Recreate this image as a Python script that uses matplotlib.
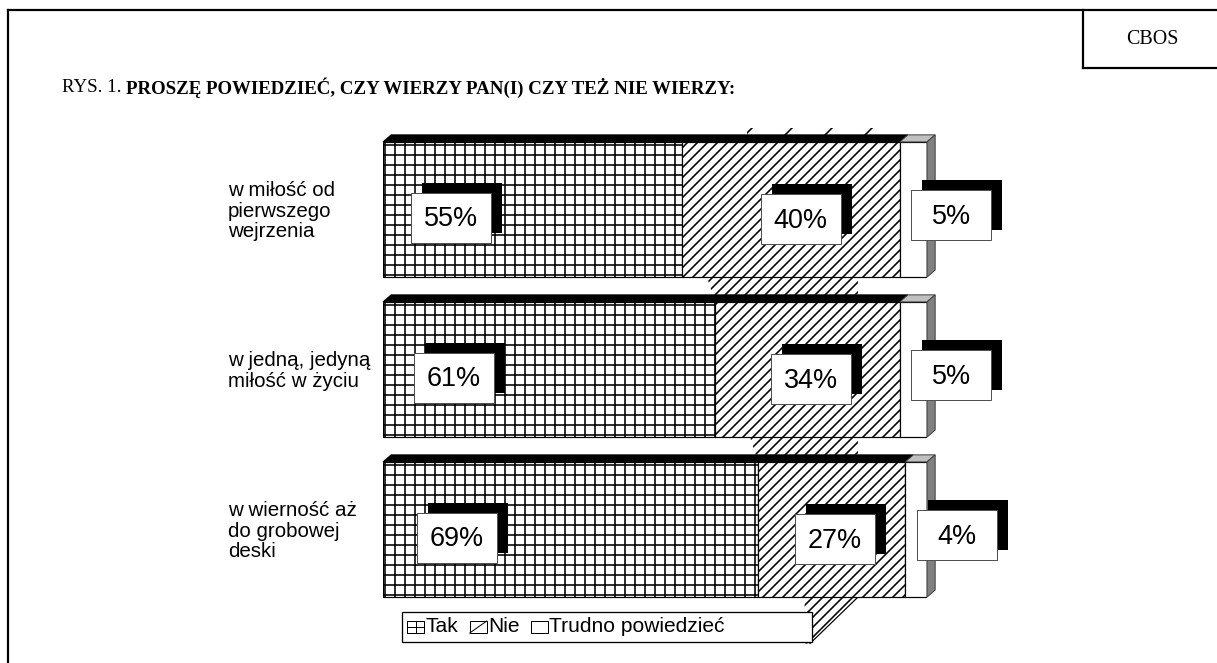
import matplotlib
matplotlib.use("Agg")
import matplotlib.pyplot as plt
from matplotlib.patches import Polygon, Rectangle
from matplotlib.lines import Line2D
from matplotlib import transforms

# dane
categories = ["w miłość od\npierwszego\nwejrzenia",
              "w jedną, jedyną\nmiłość w życiu",
              "w wierność aż\ndo grobowej\ndeski"]
tak = [55, 61, 69]
nie = [40, 34, 27]
trudno = [5, 5, 4]
series_names = ["Tak", "Nie", "Trudno powiedzieć"]

W, H = 1217, 663
DPI = 120


def pt(px):
    # rozmiar w pikselach -> punkty
    return px * 72 / DPI


plt.rcParams["hatch.linewidth"] = pt(1.6)

fig = plt.figure(figsize=(W / DPI, H / DPI), dpi=DPI)


def fx(px):
    return px / W


def fy(py):
    return 1 - py / H


# obszar wykresu (piksele: x 383-927, y 113-625)
ax = fig.add_axes([fx(383), fy(625.5), 544 / W, 512 / H])
ax.set_xlim(0, 100)
ax.set_ylim(2.6, -0.6)
ax.axis("off")

ypos = list(range(len(categories)))
bh = 0.845
dx, dy = 1.5, 0.044
NIE_HATCH = "////"
left3 = [a + b for a, b in zip(tak, nie)]


def hpoly(pts, hatch, z=1):
    ax.add_patch(Polygon(pts, closed=True, facecolor="white", edgecolor="black", hatch=hatch,
                         linewidth=0, zorder=z, clip_on=False))


# przeciekajace kreskowanie (efekt 3D)
for i in range(len(categories)):
    top = ypos[i] - bh / 2
    bot = ypos[i] + bh / 2
    if i + 1 < len(categories):
        x0 = tak[i + 1] - 1.5
        hpoly([(x0, bot), (87.3, bot), (87.3, bot + 1 - bh), (x0 + 1.5, bot + 1 - bh)], NIE_HATCH)
    else:
        hpoly([(77.5, bot), (87.3, bot), (78.5, bot + 0.29), (77.5, bot + 0.29)], NIE_HATCH)
        ax.plot([87.3, 78.5], [bot, bot + 0.29], color="black", lw=pt(1.2), zorder=1, clip_on=False)
    if i == 0:
        hpoly([(67, top - 0.03), (90, top - 0.03), (90, top - 0.09), (67, top - 0.09)], "/")

# slupki
ax.barh(ypos, tak, height=bh, color="white", edgecolor="black", hatch="++", linewidth=pt(1.2), zorder=3)
ax.barh(ypos, nie, left=tak, height=bh, color="white", edgecolor="black", hatch=NIE_HATCH,
        linewidth=pt(1.2), zorder=3)
ax.barh(ypos, trudno, left=left3, height=bh, color="white", edgecolor="black", linewidth=pt(1.2), zorder=3)

# scianki 3D
for i in range(len(categories)):
    top = ypos[i] - bh / 2
    bot = ypos[i] + bh / 2
    split = left3[i]
    end = split + trudno[i]
    ax.add_patch(Polygon([(0, top), (dx, top - dy), (split + dx, top - dy), (split, top)],
                         closed=True, facecolor="black", edgecolor="black", lw=pt(1), zorder=4, clip_on=False))
    ax.add_patch(Polygon([(split, top), (split + dx, top - dy), (end + dx, top - dy), (end, top)],
                         closed=True, facecolor="#c0c0c0", edgecolor="#404040", lw=pt(1), zorder=4, clip_on=False))
    ax.add_patch(Polygon([(end, top), (end + dx, top - dy), (end + dx, bot - dy), (end, bot)],
                         closed=True, facecolor="#808080", edgecolor="#404040", lw=pt(1), zorder=4, clip_on=False))

# etykiety wartosci z cieniem
ident = transforms.IdentityTransform()
BW, BH = 80, 50


def value_label(x, y, s):
    cx, cy = ax.transData.transform((x, y))
    ax.add_patch(Rectangle((cx - BW / 2 + 11, cy - BH / 2 + 10), BW, BH, transform=ident,
                           facecolor="black", edgecolor="black", lw=0, zorder=5, clip_on=False))
    ax.add_patch(Rectangle((cx - BW / 2, cy - BH / 2), BW, BH, transform=ident,
                           facecolor="white", edgecolor="#505050", lw=pt(1), zorder=6, clip_on=False))
    ax.text(cx, cy - 2, s, transform=ident, ha="center", va="center", fontsize=pt(27),
            family="Liberation Sans", zorder=7, clip_on=False)


for i in range(len(categories)):
    value_label(12.5 + (tak[i] - 55) * 0.08, ypos[i] + 0.05, f"{tak[i]}%")
    value_label(tak[i] + nie[i] / 2 + 0.6 - (i == 0) * -1.2, ypos[i] + 0.06, f"{nie[i]}%")
    value_label(left3[i] + 9.5, ypos[i] + 0.035, f"{trudno[i]}%")

# podpisy kategorii
lab_tr = transforms.blended_transform_factory(fig.transFigure, ax.transData)
for i, c in enumerate(categories):
    ax.text(fx(228), ypos[i] + 0.01, c, transform=lab_tr, ha="left", va="center",
            fontsize=pt(20.5), family="Liberation Sans", linespacing=1.08)

# legenda (rysowana recznie)
fig.patches.append(Rectangle((fx(402), fy(642)), 410 / W, 30 / H, transform=fig.transFigure,
                             facecolor="white", edgecolor="black", lw=pt(1.3), zorder=7))
fig.canvas.draw()
rend = fig.canvas.get_renderer()
lx = 407
ly = 627
hw, hh = 17, 12
for k, name in enumerate(series_names):
    hx0, hy0 = fx(lx), fy(ly + hh / 2)
    fig.patches.append(Rectangle((hx0, hy0), hw / W, hh / H, transform=fig.transFigure,
                                 facecolor="white", edgecolor="black", lw=pt(1), zorder=8))
    if k == 0:
        fig.add_artist(Line2D([fx(lx + hw / 2)] * 2, [fy(ly - hh / 2), fy(ly + hh / 2)], color="black",
                              lw=pt(1), zorder=9))
        fig.add_artist(Line2D([fx(lx), fx(lx + hw)], [fy(ly)] * 2, color="black", lw=pt(1), zorder=9))
    elif k == 1:
        fig.add_artist(Line2D([fx(lx), fx(lx + hw)], [fy(ly + hh / 2), fy(ly - hh / 2)], color="black",
                              lw=pt(1), zorder=9))
    t = fig.text(fx(lx + hw + 1), fy(ly), name, ha="left", va="center", fontsize=pt(21),
                 family="Liberation Sans", zorder=9)
    bb = t.get_window_extent(rend)
    lx = bb.x1 + 12

# ramka strony
fig.add_artist(Line2D([fx(8), fx(8)], [fy(10), fy(663)], color="black", lw=pt(2.2)))
fig.add_artist(Line2D([fx(8), 1], [fy(10), fy(10)], color="black", lw=pt(2.2)))
fig.add_artist(Line2D([fx(1083), fx(1083)], [fy(10), fy(68)], color="black", lw=pt(2.2)))
fig.add_artist(Line2D([fx(1083), 1], [fy(68), fy(68)], color="black", lw=pt(2.2)))
fig.text(fx(1152), fy(40), "CBOS", ha="center", va="center", fontsize=pt(20), family="Liberation Serif")

# tytul
t1 = fig.text(fx(62), fy(88), "RYS. 1. ", ha="left", va="center", fontsize=pt(18.9), family="Liberation Serif")
bb = t1.get_window_extent(rend)
fig.text(bb.x1 / W, fy(88), "PROSZĘ POWIEDZIEĆ, CZY WIERZY PAN(I) CZY TEŻ NIE WIERZY:",
         ha="left", va="center", fontsize=pt(18.9), family="Liberation Serif", weight="bold")

fig.savefig("out.png", dpi=DPI)
